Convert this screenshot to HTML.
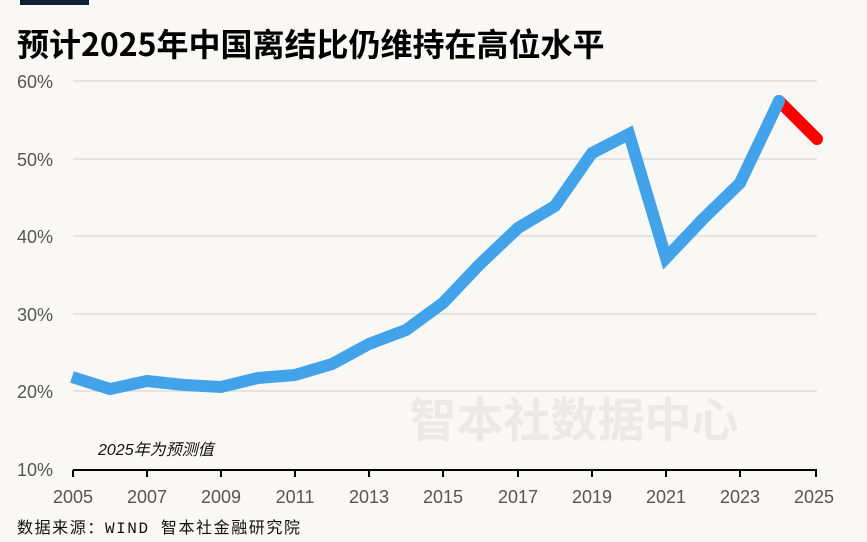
<!DOCTYPE html>
<html><head><meta charset="utf-8"><style>
body{margin:0;background:#f9f8f5;}
svg{display:block;}
text{font-family:"Liberation Sans","Noto Sans CJK SC",sans-serif;}
</style></head><body>
<svg width="867" height="542" viewBox="0 0 867 542">
<rect width="867" height="542" fill="#f9f8f5"/>
<rect x="20" y="0" width="69" height="5" fill="#0f1f33"/>
<text x="17" y="56" font-size="32" font-weight="bold" fill="#000" style="font-family:'Noto Sans CJK SC',sans-serif">预计2025年中国离结比仍维持在高位水平</text>
<g stroke="#d9d7d2" stroke-width="1.3">
<line x1="73" y1="81" x2="817" y2="81"/>
<line x1="73" y1="159" x2="817" y2="159"/>
<line x1="73" y1="236" x2="817" y2="236"/>
<line x1="73" y1="314" x2="817" y2="314"/>
<line x1="73" y1="391" x2="817" y2="391"/>
</g>
<g font-size="18" fill="#555" text-anchor="end">
<text x="53" y="88">60%</text><text x="53" y="166">50%</text><text x="53" y="243">40%</text>
<text x="53" y="321">30%</text><text x="53" y="398">20%</text><text x="53" y="476">10%</text>
</g>
<text x="574" y="437" font-size="47" font-weight="bold" fill="#ebeae6" text-anchor="middle" style="font-family:'Noto Sans CJK SC',sans-serif">智本社数据中心</text>
<line x1="73" y1="470" x2="817" y2="470" stroke="#000" stroke-width="2"/>
<g stroke="#000" stroke-width="2">
<line x1="73" y1="470" x2="73" y2="477"/><line x1="147" y1="470" x2="147" y2="477"/><line x1="221" y1="470" x2="221" y2="477"/>
<line x1="295" y1="470" x2="295" y2="477"/><line x1="369" y1="470" x2="369" y2="477"/><line x1="443" y1="470" x2="443" y2="477"/>
<line x1="518" y1="470" x2="518" y2="477"/><line x1="592" y1="470" x2="592" y2="477"/><line x1="666" y1="470" x2="666" y2="477"/>
<line x1="740" y1="470" x2="740" y2="477"/><line x1="816" y1="470" x2="816" y2="477"/>
</g>
<g font-size="18" fill="#555" text-anchor="middle">
<text x="73" y="503">2005</text><text x="147" y="503">2007</text><text x="221" y="503">2009</text>
<text x="295" y="503">2011</text><text x="369" y="503">2013</text><text x="443" y="503">2015</text>
<text x="518" y="503">2017</text><text x="592" y="503">2019</text><text x="666" y="503">2021</text>
<text x="740" y="503">2023</text><text x="814" y="503">2025</text>
</g>
<text x="98" y="455" font-size="16" font-style="italic" fill="#111">2025年为预测值</text>
<text x="17" y="533" font-size="16" fill="#111" textLength="283" style="font-family:'Liberation Mono','Noto Sans CJK SC',monospace">数据来源：WIND 智本社金融研究院</text>
<polyline points="779,101 817,139" fill="none" stroke="#ff0000" stroke-width="12" stroke-linecap="round" stroke-linejoin="round"/>
<polyline points="72,377 110,389 147,381 184,385 221,387 258,378 295,375 332,364 369,344 406,330 443,303 480,264 518,228 555,206 592,153 629,134 666,258 703,219 740,183 779,101" fill="none" stroke="#42a2ea" stroke-width="12" stroke-linejoin="miter" stroke-linecap="butt"/>
<circle cx="779" cy="101" r="6" fill="#42a2ea"/>
</svg>
</body></html>
